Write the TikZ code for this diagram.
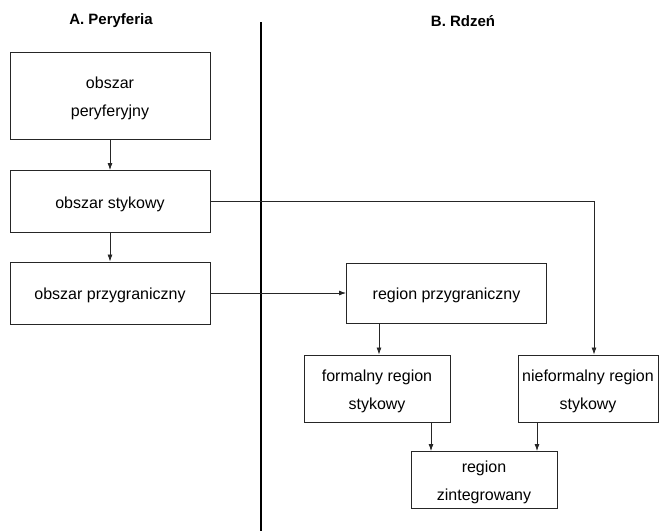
\documentclass[tikz,border=0pt]{standalone}
\usepackage{fontspec}
\setmainfont{Liberation Sans}
\usetikzlibrary{arrows.meta}
\newcommand{\lowtxt}[1]{\raisebox{-2.5pt}[\height][\depth]{#1}}
\begin{document}
\begin{tikzpicture}[x=1pt,y=-1pt,
  box/.style={draw=black!85, line width=0.9pt, rectangle, inner sep=0pt, align=center,
    font=\fontsize{16}{28}\selectfont},
  title/.style={font=\fontsize{15}{18}\selectfont\bfseries},
  arr/.style={draw=black!85, line width=0.8pt, -{Latex[length=7pt,width=5pt]}},
  divider/.style={line width=1.8pt}]
\useasboundingbox (0,0) rectangle (659,531);
\node[title] (tA) at (111,21) {A. Peryferia};
\node[title] (tB) at (463,21) {B. Rdzeń};
\coordinate (d1) at (261,22);
\coordinate (d2) at (261,531);
\draw[divider] (d1) -- (d2);
\node[box, minimum width=200, minimum height=87] (A1) at (110,95.5) {\lowtxt{obszar}\\\lowtxt{peryferyjny}};
\node[box, minimum width=200, minimum height=62] (A2) at (110,201.5) {\lowtxt{obszar stykowy}};
\node[box, minimum width=200, minimum height=62] (A3) at (110,293) {\lowtxt{obszar przygraniczny}};
\node[box, minimum width=200, minimum height=60] (B1) at (446.5,293) {\lowtxt{region przygraniczny}};
\node[box, minimum width=146, minimum height=67] (B2) at (377,388.5) {\lowtxt{formalny region}\\\lowtxt{stykowy}};
\node[box, minimum width=140, minimum height=67] (B3) at (588,388.5) {\lowtxt{nieformalny region}\\\lowtxt{stykowy}};
\node[box, minimum width=146, minimum height=57] (B4) at (484,480) {\lowtxt{region}\\\lowtxt{zintegrowany}};
\draw[arr] (A1.south) -- (A2.north);
\draw[arr] (A2.south) -- (A3.north);
\draw[arr] (A3.east) -- (A3.east -| B1.west);
\draw[arr] (A2.east) -| ([xshift=6pt]B3.north);
\draw[arr] ([xshift=-67.5pt]B1.south) -- ([xshift=-67.5pt]B1.south |- B2.north);
\draw[arr] ([xshift=54pt]B2.south) -- ([xshift=54pt]B2.south |- B4.north);
\draw[arr] ([xshift=-51pt]B3.south) -- ([xshift=-51pt]B3.south |- B4.north);
\end{tikzpicture}
\end{document}
